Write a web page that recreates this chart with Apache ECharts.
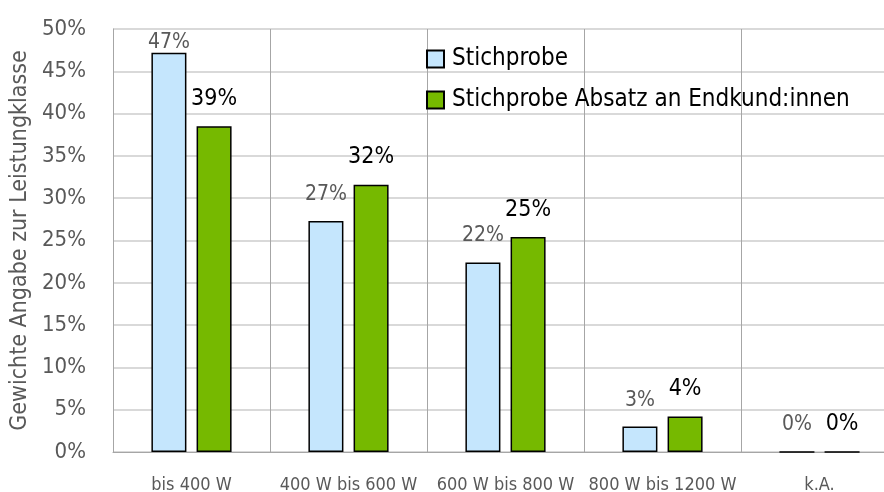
<!DOCTYPE html>
<html><head><meta charset="utf-8">
<script src="https://cdn.jsdelivr.net/npm/echarts@6/dist/echarts.min.js"></script>
<style>html,body{margin:0;padding:0;background:#fff}#c{width:884px;height:492px}</style>
</head><body><div id="c"></div>
<script>
const categories = ['bis 400 W', '400 W bis 600 W', '600 W bis 800 W', '800 W bis 1200 W', 'k.A.'];
const stichprobe = [47.2, 27.3, 22.4, 3.0, 0];
const endkunden = [38.5, 31.6, 25.4, 4.2, 0];
const seriesNames = ['Stichprobe', 'Stichprobe Absatz an Endkund:innen'];
const yTicks = [0, 5, 10, 15, 20, 25, 30, 35, 40, 45, 50];
const yAxisName = 'Gewichte Angabe zur Leistungklasse';

const FONT = 'DejaVu Sans Condensed';
const chart = echarts.init(document.getElementById('c'), null, {renderer: 'canvas'});
chart.setOption({
  animation: false,
  textStyle: {fontFamily: FONT},
  grid: {left: 113, width: 785, top: 29, height: 423, containLabel: false, outerBoundsMode: 'none'},
  legend: {
    orient: 'vertical', left: 426, top: 47, itemGap: 17, padding: 0,
    itemWidth: 17, itemHeight: 17, icon: 'rect',
    textStyle: {fontFamily: FONT, fontSize: 24, color: '#000', padding: [0, 0, 0, 3]},
    data: seriesNames
  },
  xAxis: {
    type: 'category', data: categories,
    axisLine: {show: true, lineStyle: {color: '#a6a6a6', width: 1}},
    axisTick: {show: false},
    axisLabel: {interval: 0, fontFamily: FONT, fontSize: 18, color: '#595959', margin: 24},
    splitLine: {show: true, interval: 0, lineStyle: {color: '#a6a6a6', width: 1}}
  },
  yAxis: {
    type: 'value', min: yTicks[0], max: yTicks[yTicks.length - 1], interval: 5,
    name: yAxisName, nameLocation: 'middle', nameGap: 73, nameRotate: 90,
    nameTextStyle: {fontFamily: FONT, fontSize: 23, color: '#595959'},
    axisLine: {show: true, lineStyle: {color: '#a6a6a6', width: 1}},
    axisTick: {show: false},
    axisLabel: {fontFamily: FONT, fontSize: 22, color: '#595959', margin: 27, formatter: v => v + '%'},
    splitLine: {show: true, lineStyle: {color: '#d9d9d9', width: 2}}
  },
  series: [
    {
      name: seriesNames[0], type: 'bar', barWidth: 35, barGap: '29%',
      itemStyle: {color: '#c5e6fd', borderColor: '#000', borderWidth: 1.5},
      label: {show: true, position: 'top', distance: 16, fontFamily: FONT, fontSize: 21, color: '#595959',
        formatter: p => Math.round(p.value) + '%'},
      data: stichprobe.map((v, i) => i === 0 ? {value: v, label: {distance: 0}} : v)
    },
    {
      name: seriesNames[1], type: 'bar', barWidth: 35,
      itemStyle: {color: '#76b900', borderColor: '#000', borderWidth: 1.5},
      label: {show: true, position: 'top', distance: 16, fontFamily: FONT, fontSize: 23, color: '#000',
        formatter: p => Math.round(p.value) + '%'},
      data: endkunden
    }
  ]
});
</script></body></html>
